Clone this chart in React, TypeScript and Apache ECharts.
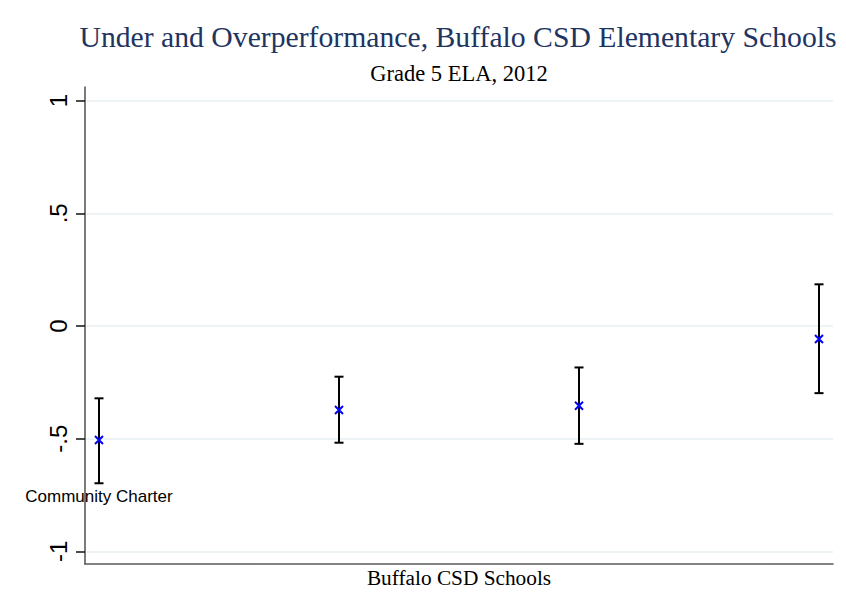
import React, { useEffect, useRef } from "react";
import * as echarts from "echarts";

const schoolPositions = [1, 2, 3, 4];
const schoolLabels = ["Community Charter", "", "", ""];
const estimates = [-0.506, -0.373, -0.354, -0.058];
const upperBounds = [-0.321, -0.225, -0.184, 0.185];
const lowerBounds = [-0.698, -0.518, -0.523, -0.298];
const yTicks = [-1, -0.5, 0, 0.5, 1];
const yTickLabels = ["-1", "-.5", "0", ".5", "1"];

const titleText = "Under and Overperformance, Buffalo CSD Elementary Schools";
const subtitleText = "Grade 5 ELA, 2012";
const xAxisTitle = "Buffalo CSD Schools";

export default function App() {
  const ref = useRef<HTMLDivElement>(null);
  useEffect(() => {
    const chart = echarts.init(ref.current!, null, { renderer: "svg" });
    const fmt = (v: number) => {
      const i = yTicks.findIndex((t) => Math.abs(t - v) < 1e-6);
      return i >= 0 ? yTickLabels[i] : "";
    };
    const frameLine = { show: true, onZero: false, lineStyle: { color: "#5a5a5a", width: 1.6 } };
    chart.setOption({
      animation: false,
      backgroundColor: "#ffffff",
      graphic: [
        {
          type: "text",
          x: 458,
          y: 37,
          style: {
            text: titleText,
            fontFamily: "Liberation Serif",
            fontSize: 29.7,
            fill: "#1e3461",
            align: "center",
            verticalAlign: "middle",
          },
        },
        {
          type: "text",
          x: 459,
          y: 73,
          style: {
            text: subtitleText,
            fontFamily: "Liberation Serif",
            fontSize: 22.5,
            fill: "#000000",
            align: "center",
            verticalAlign: "middle",
          },
        },
      ],
      grid: [
        { left: 85, right: 13, top: 87, bottom: 50 },
        { left: 85, right: 13, top: 100.7, bottom: 62.7 },
      ],
      xAxis: [
        {
          gridIndex: 0,
          type: "value",
          min: 0,
          max: 1,
          axisLine: frameLine,
          axisTick: { show: false },
          axisLabel: { show: false },
          splitLine: { show: false },
          name: xAxisTitle,
          nameLocation: "middle",
          nameGap: 3,
          nameTextStyle: {
            fontFamily: "Liberation Serif",
            fontSize: 21.3,
            color: "#000000",
            verticalAlign: "top",
          },
        },
        {
          gridIndex: 1,
          type: "value",
          min: 0.9417,
          max: 4.0583,
          show: false,
        },
      ],
      yAxis: [
        {
          gridIndex: 0,
          type: "value",
          min: 0,
          max: 1,
          axisLine: frameLine,
          axisTick: { show: false },
          axisLabel: { show: false },
          splitLine: { show: false },
        },
        {
          gridIndex: 1,
          type: "value",
          min: -1,
          max: 1,
          interval: 0.5,
          axisLine: { show: false },
          axisTick: { show: true, length: 9, lineStyle: { color: "#111111", width: 1.5 } },
          axisLabel: {
            rotate: 90,
            margin: 15,
            fontFamily: "Liberation Sans",
            fontSize: 24,
            color: "#000000",
            formatter: fmt,
          },
          splitLine: { show: true, lineStyle: { color: "#e8f0f2", width: 1.5 } },
        },
      ],
      series: [
        {
          type: "custom",
          xAxisIndex: 1,
          yAxisIndex: 1,
          z: 2,
          data: schoolPositions.map((x, i) => [x, lowerBounds[i], upperBounds[i]]),
          renderItem: (params: any, api: any) => {
            const x = api.value(0);
            const lo = api.coord([x, api.value(1)]);
            const hi = api.coord([x, api.value(2)]);
            const hw = 4.5;
            const st = { stroke: "#000000", lineWidth: 2 };
            return {
              type: "group",
              children: [
                { type: "line", shape: { x1: lo[0], y1: lo[1], x2: hi[0], y2: hi[1] }, style: st },
                { type: "line", shape: { x1: lo[0] - hw, y1: lo[1], x2: lo[0] + hw, y2: lo[1] }, style: st },
                { type: "line", shape: { x1: hi[0] - hw, y1: hi[1], x2: hi[0] + hw, y2: hi[1] }, style: st },
              ],
            };
          },
        },
        {
          type: "scatter",
          xAxisIndex: 1,
          yAxisIndex: 1,
          z: 3,
          symbol: "path://M0 0L10 10M10 0L0 10",
          symbolSize: 8,
          itemStyle: { color: "none", borderColor: "#0000ff", borderWidth: 2, opacity: 1 },
          data: schoolPositions.map((x, i) => ({
            value: [x, estimates[i]],
            label: {
              show: schoolLabels[i] !== "",
              formatter: schoolLabels[i],
              position: "bottom",
              distance: 41,
              fontFamily: "Liberation Sans",
              fontSize: 17,
              color: "#000000",
            },
          })),
        },
      ],
    });
    return () => chart.dispose();
  }, []);
  return (
    <div
      ref={ref}
      style={{ position: "absolute", left: 0, top: 0, width: 846, height: 614 }}
    />
  );
}
